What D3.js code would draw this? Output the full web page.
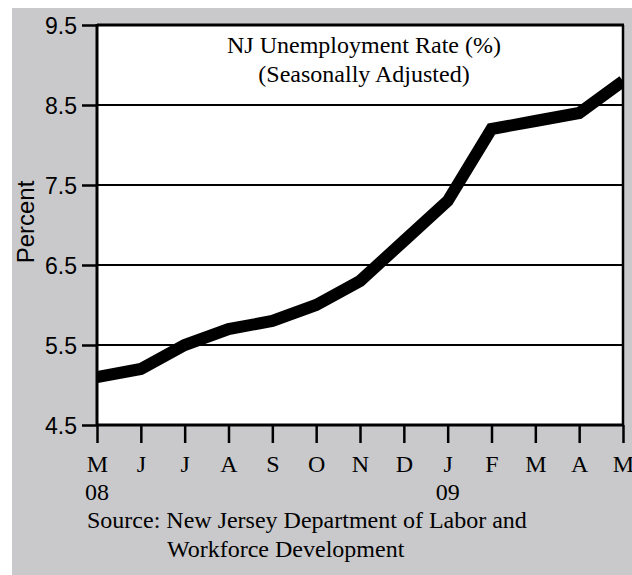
<!DOCTYPE html>
<html><head><meta charset="utf-8">
<script src="https://cdn.jsdelivr.net/npm/d3@7"></script>
<style>body{margin:0;background:#fff}svg{display:block}</style>
</head><body><svg id="c" width="632" height="575"></svg>
<script>
const months = ["M","J","J","A","S","O","N","D","J","F","M","A","M"];
const yearLabels = ["08","","","","","","","","09","","","",""];
const values = [5.1,5.2,5.5,5.7,5.8,6.0,6.3,6.8,7.3,8.2,8.3,8.4,8.8];
const yTicks = [4.5,5.5,6.5,7.5,8.5,9.5];
const titleLines = ["NJ Unemployment Rate (%)","(Seasonally Adjusted)"];
const sourceLines = ["Source: New Jersey Department of Labor and","Workforce Development"];

const serif = "Liberation Serif, Times New Roman, serif";
const sans = "Liberation Sans, Arial, sans-serif";
const svg = d3.select("#c");
const L=97,R=623,T=25,B=425;
svg.append("rect").attr("x",12).attr("y",8).attr("width",620).attr("height",567).attr("fill","#c9c9cb");
svg.append("rect").attr("x",L).attr("y",T).attr("width",R-L).attr("height",B-T).attr("fill","#fff");

const x = d3.scaleLinear().domain([0,months.length-1]).range([L,R]);
const y = d3.scaleLinear().domain([4.5,9.5]).range([B,T]);

// gridlines
svg.append("g").selectAll("line").data(yTicks.filter(d=>d>4.5&&d<9.5)).join("line")
  .attr("x1",L).attr("x2",R).attr("y1",d=>y(d)).attr("y2",d=>y(d))
  .attr("stroke","#000").attr("stroke-width",2);

// y axis
const ya = svg.append("g").attr("transform",`translate(${L},0)`)
  .call(d3.axisLeft(y).tickValues(yTicks).tickFormat(d3.format(".1f")).tickSize(15).tickPadding(5));
ya.select(".domain").remove();
ya.selectAll(".tick line").attr("stroke","#000").attr("stroke-width",2.5);
ya.selectAll(".tick text").attr("font-family",sans).attr("font-size",23).attr("fill","#000").attr("dy","0.35em");

// x axis
const xa = svg.append("g").attr("transform",`translate(0,${B})`)
  .call(d3.axisBottom(x).tickValues(d3.range(months.length)).tickFormat(i=>months[i]).tickSize(18).tickPadding(12));
xa.select(".domain").remove();
xa.selectAll(".tick line").attr("stroke","#000").attr("stroke-width",2.5);
xa.selectAll(".tick text").attr("font-family",serif).attr("font-size",24).attr("fill","#000");
svg.append("g").selectAll("text").data(yearLabels).join("text")
  .attr("x",(d,i)=>x(i)).attr("y",500).attr("text-anchor","middle")
  .attr("font-family",serif).attr("font-size",24).text(d=>d);

// line
svg.append("clipPath").attr("id","pc").append("rect").attr("x",L).attr("y",T).attr("width",R-L).attr("height",B-T);
svg.append("path").datum(values).attr("clip-path","url(#pc)")
  .attr("d",d3.line().x((d,i)=>x(i)).y(d=>y(d)))
  .attr("fill","none").attr("stroke","#000").attr("stroke-width",12).attr("stroke-linejoin","miter");

// frame
svg.append("line").attr("x1",L).attr("x2",R+1).attr("y1",T).attr("y2",T).attr("stroke","#000").attr("stroke-width",3);
svg.append("line").attr("x1",R).attr("x2",R).attr("y1",T).attr("y2",B).attr("stroke","#000").attr("stroke-width",2.5);
svg.append("line").attr("x1",L).attr("x2",L).attr("y1",T-1).attr("y2",B+1).attr("stroke","#000").attr("stroke-width",3);
svg.append("line").attr("x1",L).attr("x2",R+1).attr("y1",B).attr("y2",B).attr("stroke","#000").attr("stroke-width",3);

// title
svg.append("g").selectAll("text").data(titleLines).join("text")
  .attr("x",364).attr("y",(d,i)=>53+i*29).attr("text-anchor","middle")
  .attr("font-family",serif).attr("font-size",24).text(d=>d);

// y label
svg.append("text").attr("transform","translate(34,222) rotate(-90)").attr("text-anchor","middle")
  .attr("font-family",sans).attr("font-size",24).text("Percent");

// source
svg.append("g").selectAll("text").data(sourceLines).join("text")
  .attr("x",(d,i)=>i?167:87).attr("y",(d,i)=>528+i*29)
  .attr("font-family",serif).attr("font-size",24).text(d=>d);
</script></body></html>
